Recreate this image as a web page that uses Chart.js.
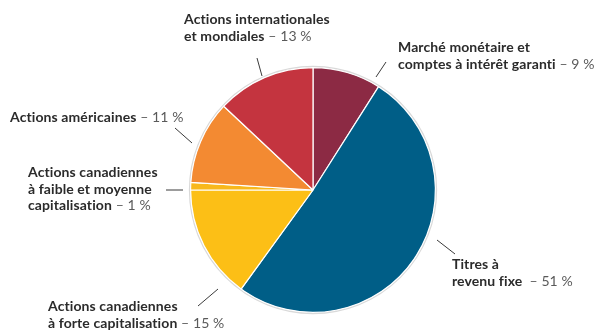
<!DOCTYPE html>
<html lang="fr">
<head>
<meta charset="utf-8">
<script src="https://cdn.jsdelivr.net/npm/chart.js@4.4.1/dist/chart.umd.min.js"></script>
<style>
  html, body { margin:0; padding:0; background:#fff; }
  #wrap { width:598px; height:330px; position:relative; }
</style>
</head>
<body>
<div id="wrap"><canvas id="pie" width="598" height="330"></canvas></div>
<script>
// répartition de l'actif (en %), dans le sens horaire à partir du haut
const CATEGORIES = [
  ["Marché monétaire et", "comptes à intérêt garanti"],
  ["Titres à", "revenu fixe "],
  ["Actions canadiennes", "à forte capitalisation"],
  ["Actions canadiennes", "à faible et moyenne", "capitalisation"],
  ["Actions américaines"],
  ["Actions internationales", "et mondiales"]
];
const VALUES = [9, 51, 15, 1, 11, 13];
const COLORS = ["#8c2a44", "#005e87", "#fcbf16", "#f8b81c", "#f38a32", "#c4343f"];

// emplacement des étiquettes et des traits de rappel
const LABEL_POS = [
  { x:398, y:52,  line:[376,77, 386,62] },
  { x:452, y:269, line:[437,240, 455,254] },
  { x:48,  y:311, line:[218,289, 198,306] },
  { x:28,  y:177, line:[183,190, 166,190] },
  { x:10,  y:122, line:[192,143, 175,128] },
  { x:184, y:24,  line:[262,76, 257,58] }
];
const LINE_H = 16.5;
const FONT = "Lato, 'Open Sans', sans-serif";

function el(id){ return document.getElementById(id); }

const rimPlugin = {
  id: "rim",
  beforeDatasetsDraw(chart){
    const arc = chart.getDatasetMeta(0).data[0];
    if(!arc) return;
    const ctx = chart.ctx;
    ctx.save();
    ctx.beginPath();
    ctx.arc(arc.x, arc.y, arc.outerRadius + 1, 0, Math.PI * 2);
    ctx.strokeStyle = "#d9d9d9";
    ctx.lineWidth = 1.5;
    ctx.stroke();
    ctx.restore();
  }
};

const labelPlugin = {
  id: "calloutLabels",
  afterDraw(chart){
    const ctx = chart.ctx;
    const labels = chart.data.labels;
    const vals = chart.data.datasets[0].data;
    ctx.save();
    ctx.textBaseline = "alphabetic";
    ctx.textAlign = "left";
    ctx.letterSpacing = "0.1px"; // pas de ligature « ti »
    labels.forEach((lines, i) => {
      const p = LABEL_POS[i];
      // trait de rappel
      ctx.beginPath();
      ctx.moveTo(p.line[0], p.line[1]);
      ctx.lineTo(p.line[2], p.line[3]);
      ctx.strokeStyle = "#3a3a3a";
      ctx.lineWidth = 1;
      ctx.stroke();

      lines.forEach((txt, j) => {
        const y = p.y + j * LINE_H;
        ctx.font = `bold 14px ${FONT}`;
        ctx.fillStyle = "#2b2b2b";
        ctx.fillText(txt, p.x, y);
        if(j === lines.length - 1){
          const w = ctx.measureText(txt).width;
          ctx.font = `14px ${FONT}`;
          ctx.fillStyle = "#5a5a5a";
          ctx.fillText(` \u2013 ${vals[i]} %`, p.x + w, y);
        }
      });
    });
    ctx.restore();
  }
};

new Chart(el("pie"), {
  type: "pie",
  data: {
    labels: CATEGORIES,
    datasets: [{
      data: VALUES,
      backgroundColor: COLORS,
      borderColor: "#ffffff",
      borderWidth: 1.2
    }]
  },
  options: {
    responsive: false,
    animation: false,
    layout: { padding: { top:67, bottom:17, left:190, right:162 } },
    plugins: { legend:{ display:false }, tooltip:{ enabled:false } }
  },
  plugins: [rimPlugin, labelPlugin]
});
</script>
</body>
</html>
